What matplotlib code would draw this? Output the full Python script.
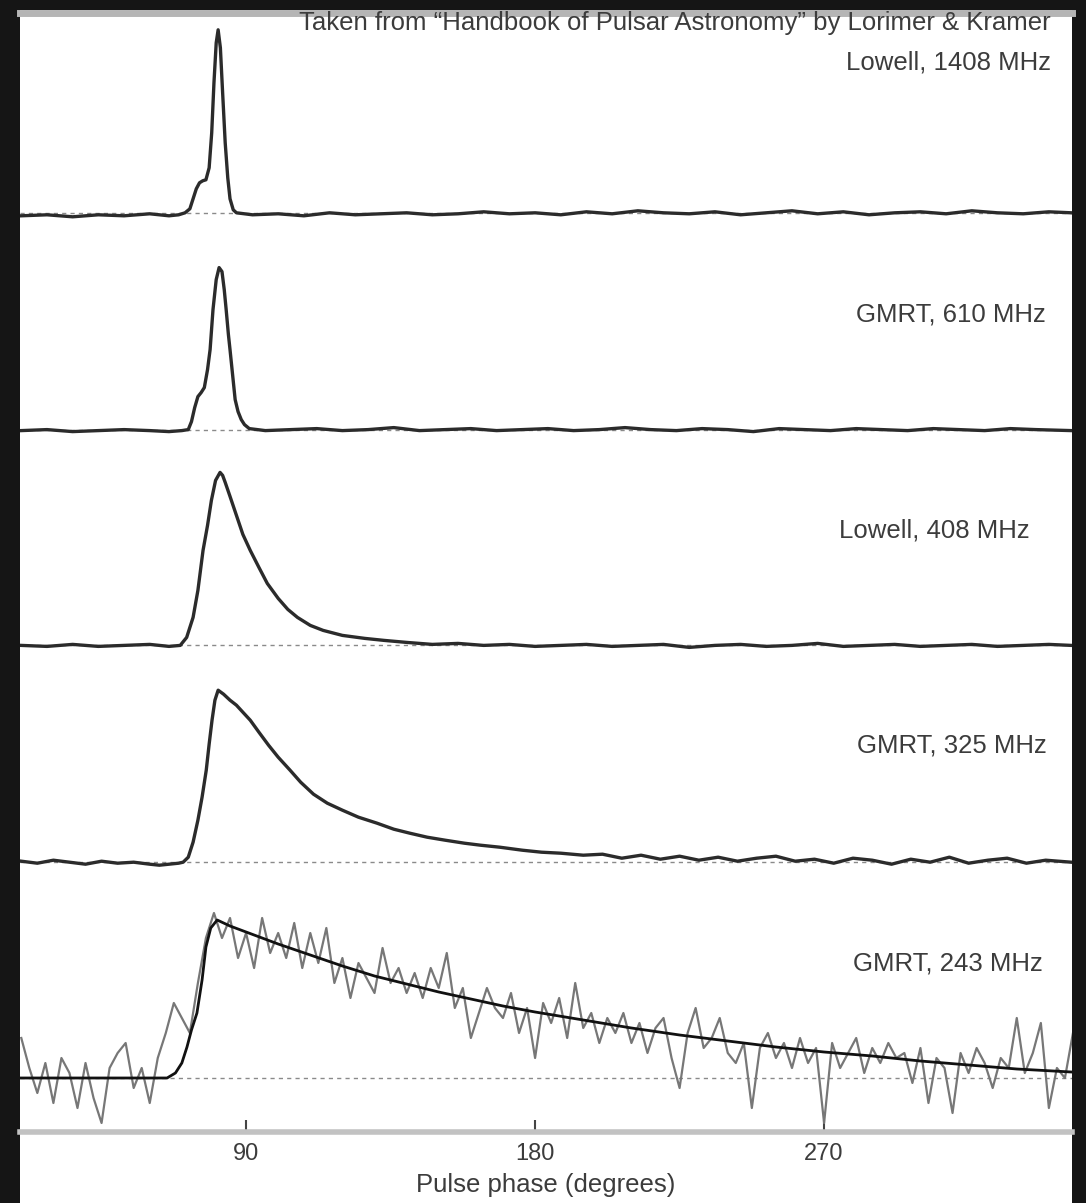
#Import Packages
import numpy as np
import matplotlib
matplotlib.use('Agg')
import matplotlib.pyplot as plt
from matplotlib.patches import Rectangle

plt.rcParams['font.family'] = ['Liberation Sans', 'DejaVu Sans']

#Data (intensity in arbitrary units)
labels = ['Lowell, 1408 MHz', 'GMRT, 610 MHz', 'Lowell, 408 MHz',
          'GMRT, 325 MHz', 'GMRT, 243 MHz']
source_note = 'Taken from \u201cHandbook of Pulsar Astronomy\u201d by Lorimer & Kramer'
phase_ticks = [90, 180, 270]

phase_1408 = [20, 28, 36, 44, 52, 60, 66, 69, 71.0, 72.5, 73.5, 74.5, 75.5, 76.5, 77.5,
              78.5, 79.3, 80.0, 80.7, 81.3, 82.0, 82.7, 83.5, 84.3, 85.0, 86.0, 87.0,
              92, 100, 108, 116, 124, 132, 140, 148, 156, 164, 172, 180, 188, 196,
              204, 212, 220, 228, 236, 244, 252, 260, 268, 276, 284, 292, 300, 308,
              316, 324, 332, 340, 347]
flux_1408 = [-3, -2, -4, -2, -3, -1, -3, -2, 0, 4, 14, 24, 30, 32, 33,
             45, 80, 130, 170, 183, 165, 120, 70, 35, 14, 3, 0,
             -2, -1, -3, 0, -2, -1, 0, -2, -1, 1, -1, 0, -2, 1,
             -1, 2, 0, -1, 1, -2, 0, 2, -1, 1, -2, 0, 1, -1,
             2, 0, -1, 1, 0]

phase_610 = [20, 28, 36, 44, 52, 60, 66, 70, 72.0, 73.0, 74.0, 75.0, 76.0, 77.0, 78.0,
             78.8, 79.7, 80.7, 81.6, 82.5, 83.2, 83.8, 84.5, 85.0, 85.8, 86.6, 87.5,
             88.5, 89.5, 91.0, 96, 104, 112, 120, 128, 136, 144, 152, 160, 168, 176,
             184, 192, 200, 208, 216, 224, 232, 240, 248, 256, 264, 272, 280, 288,
             296, 304, 312, 320, 328, 336, 347]
flux_610 = [-1, 0, -2, -1, 0, -1, -2, -1, 0, 8, 22, 33, 37, 42, 60,
            80, 120, 150, 162, 158, 140, 120, 95, 80, 55, 30, 18,
            10, 5, 1, -1, 0, 1, -1, 0, 2, -1, 0, 1, -1, 0,
            1, -1, 0, 2, 0, -1, 1, 0, -2, 1, 0, -1, 1, 0,
            -1, 1, 0, -1, 1, 0, -1]

phase_408 = [20, 28, 36, 44, 52, 60, 66, 69.5, 71.5, 73.5, 75.0, 76.6, 78.0, 79.2,
             80.5, 81.9, 82.7, 83.5, 85.0, 87.0, 89.0, 91.3, 94.0, 96.6, 100, 103, 106,
             110, 114, 120, 127, 133, 140, 148, 156, 164, 172, 180, 188, 196, 204,
             212, 220, 228, 236, 244, 252, 260, 268, 276, 284, 292, 300, 308, 316,
             324, 332, 340, 347]
flux_408 = [0, -1, 1, -1, 0, 1, -1, 0, 8, 28, 55, 95, 120, 145,
            165, 173, 170, 163, 149, 130, 111, 95, 78, 62, 47, 36, 28,
            20, 15, 10, 7, 5, 3, 1, 2, 0, 1, -1, 0, 1, -1,
            0, 1, -2, 0, 1, -1, 0, 2, -1, 0, 1, -1, 0, 1,
            -1, 0, 1, 0]

phase_325 = [20, 25, 30, 35, 40, 45, 50, 55, 60, 63, 66, 69, 70.4, 72.0, 73.5, 75.0,
             76.3, 77.6, 78.5, 79.4, 80.3, 81.3, 83, 85, 87, 89, 91.3, 94, 97, 100,
             103.7, 107, 111, 115.3, 120, 125, 130.8, 136, 141, 146.4, 152, 158, 163,
             169, 176, 182, 188, 195, 201, 207, 213, 219, 225, 231, 237, 243, 249,
             255, 261, 267, 273, 279, 285, 291, 297, 303, 309, 315, 321, 327, 333,
             339, 347]
flux_325 = [1, -1, 2, 0, -2, 1, -1, 0, -2, -3, -2, -1, 0, 5, 20, 42,
            65, 92, 118, 142, 162, 172, 168, 162, 157, 150, 142, 130, 117, 105,
            92, 80, 68, 59, 52, 45, 39, 33, 29, 25, 22, 19, 17,
            15, 12, 10, 9, 7, 8, 4, 7, 3, 6, 2, 5, 1, 4,
            6, 1, 3, -1, 4, 2, -2, 3, 0, 5, -1, 2, 4, -1,
            2, 0]

phase_243_fit = [20, 40, 60, 65.4, 68, 70, 71.6, 73, 74.7, 76.3, 77.5, 79, 81, 85,
                 90, 100, 110, 120, 130, 140, 150, 160, 170, 180, 195, 210, 225,
                 240, 255, 270, 285, 300, 315, 330, 347]
flux_243_fit = [0, 0, 0, 0, 5, 15, 31, 48, 65, 98, 131, 150, 158, 152,
                146, 134, 123, 112, 102, 94, 86, 79, 72, 66, 58, 50, 43,
                37, 31, 26, 22, 17, 13, 9, 6]

# observed 243 MHz profile, one value per 2.5 deg bin starting at 20 deg
flux_243 = [40, 10, -15, 15, -25, 20, 5, -30, 15, -20,
            -45, 10, 25, 35, -10, 10, -25, 20, 45, 75,
            60, 45, 95, 140, 165, 140, 160, 120, 145, 110,
            160, 125, 145, 120, 155, 110, 145, 115, 150, 95,
            120, 80, 115, 100, 85, 130, 95, 110, 85, 105,
            80, 110, 90, 125, 70, 90, 40, 65, 90, 70,
            60, 85, 45, 70, 20, 75, 55, 80, 40, 95,
            50, 65, 35, 60, 45, 65, 35, 55, 25, 50,
            60, 20, -10, 45, 70, 30, 40, 60, 25, 15,
            35, -30, 30, 45, 20, 35, 10, 40, 15, 30,
            -45, 35, 10, 25, 40, 5, 30, 15, 35, 20,
            25, -5, 30, -25, 20, 10, -35, 25, 5, 30,
            15, -10, 20, 10, 60, 5, 25, 55, -30, 10,
            0, 45]
phase_243 = 20 + 2.5 * np.arange(len(flux_243))

profiles = [(phase_1408, flux_1408), (phase_610, flux_610), (phase_408, flux_408),
            (phase_325, flux_325)]

#Layout
W, H = 1086, 1203
fig = plt.figure(figsize=(W / 100, H / 100), dpi=100, facecolor='#151515')
fig.patches.append(Rectangle((20 / W, 0), 1052 / W, 1 - 10 / H, transform=fig.transFigure,
                             facecolor='white', edgecolor='none', zorder=-5))
axes = fig.subplots(5, 1, sharex=True, gridspec_kw=dict(hspace=0))
fig.subplots_adjust(left=20 / W, right=1072 / W, top=1 - 13 / H, bottom=1 - 1132 / H)

panel_h = (1132 - 13) / 5
below = [24, 31, 39, 46, 54]  # space under the baseline in each panel
label_y = [0.777, 0.652, 0.6875, 0.728, 0.754]
label_x = [0.98, 0.975, 0.96, 0.976, 0.972]
fs = 18.5

for i, ax in enumerate(axes):
    ax.set_zorder(2)
    ax.set_facecolor('none')
    ax.set_ylim(-below[i], panel_h - below[i])
    ax.set_xlim(19.6, 347.2)
    ax.axhline(0, color='#8a8a8a', lw=1, dashes=(3, 3), zorder=1)
    if i < 4:
        ph, fl = profiles[i]
        ax.plot(ph, fl, color='#2b2b2b', lw=2.4, zorder=3)
    else:
        ax.plot(phase_243, flux_243, color='#777777', lw=1.6, zorder=2)
        ax.plot(phase_243_fit, flux_243_fit, color='#111111', lw=2.0, zorder=3)
    ax.text(label_x[i], label_y[i], labels[i], transform=ax.transAxes, ha='right',
            va='center', fontsize=fs, color='#3c3c3c')
    for s in ['left', 'right', 'top', 'bottom']:
        ax.spines[s].set_visible(False)
    ax.set_yticks([])
    ax.tick_params(axis='x', which='both', length=0)

axes[0].text(0.98, 0.955, source_note, transform=axes[0].transAxes, ha='right',
             va='center', fontsize=fs, color='#3c3c3c')
axes[0].spines['top'].set_visible(True)
axes[0].spines['top'].set_color('#b5b5b5')
axes[0].spines['top'].set_linewidth(5)

ax = axes[-1]
ax.spines['bottom'].set_visible(True)
ax.spines['bottom'].set_color('#c2c2c2')
ax.spines['bottom'].set_linewidth(4)
ax.set_xticks(phase_ticks)
ax.tick_params(axis='x', direction='in', length=9, width=1.5, color='#444444',
               labelsize=17, labelcolor='#3c3c3c', pad=8)
ax.set_xlabel('Pulse phase (degrees)', fontsize=fs, color='#3c3c3c', labelpad=6)

plt.savefig('out.png', dpi=100, facecolor=fig.get_facecolor())
